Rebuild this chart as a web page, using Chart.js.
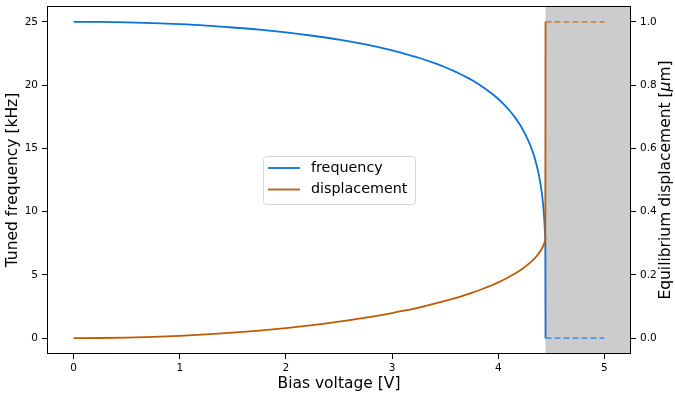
<!DOCTYPE html>
<html>
<head>
<meta charset="utf-8">
<script src="https://cdn.jsdelivr.net/npm/chart.js@4/dist/chart.umd.min.js"></script>
<style>
  html, body { margin: 0; padding: 0; background: #ffffff; }
  #c { display: block; }
</style>
</head>
<body>
<canvas id="c" width="675" height="395"></canvas>
<script>
// ---- Data ----
const biasVoltage = [0, 0.25, 0.5, 0.75, 1.0, 1.25, 1.5, 1.75, 2.0, 2.25, 2.5, 2.75, 3.0, 3.1, 3.25, 3.4, 3.5, 3.6, 3.65, 3.7, 3.75, 3.8, 3.85, 3.9, 3.95, 4.0, 4.05, 4.1, 4.15, 4.2, 4.25, 4.3, 4.33, 4.35, 4.38, 4.4, 4.41, 4.42, 4.43, 4.435, 4.44, 4.443, 4.445];
const frequency   = [25.0, 24.99, 24.95, 24.89, 24.81, 24.70, 24.55, 24.38, 24.16, 23.90, 23.59, 23.21, 22.74, 22.52, 22.16, 21.73, 21.41, 21.04, 20.84, 20.63, 20.40, 20.14, 19.87, 19.58, 19.26, 18.90, 18.50, 18.05, 17.53, 16.92, 16.19, 15.27, 14.59, 14.03, 13.0, 12.04, 11.48, 10.76, 9.77, 9.13, 8.32, 7.8, 0];
const displacement = [0, 0.0005, 0.0019, 0.0042, 0.0076, 0.0120, 0.0174, 0.0241, 0.0319, 0.0412, 0.0520, 0.0647, 0.0795, 0.0861, 0.0969, 0.1089, 0.1178, 0.1273, 0.1324, 0.1377, 0.1432, 0.1492, 0.1555, 0.1621, 0.169, 0.1765, 0.1845, 0.1932, 0.2026, 0.2132, 0.225, 0.2387, 0.248, 0.2551, 0.2673, 0.2775, 0.2829, 0.2895, 0.2976, 0.3023, 0.3078, 0.311, 1.0];
const afterVoltage = [4.445, 5.0];
const afterFrequency = [0, 0];
const afterDisplacement = [1.0, 1.0];
const pullInVoltage = 4.445;
const xTicks = [0, 1, 2, 3, 4, 5];
const yTicksLeft = [0, 5, 10, 15, 20, 25];
const yTicksRight = [0, 0.2, 0.4, 0.6, 0.8, 1.0];
const legendLabels = ['frequency', 'displacement'];

const BLUE = '#0a72d8';
const ORANGE = '#bf5b04';
const BLUE_DASH = 'rgba(10,114,216,0.6)';
const ORANGE_DASH = 'rgba(191,91,4,0.6)';
const FONT = "'DejaVu Sans', sans-serif";
const TITLE_SIZE = 15.5;

function pts(xs, ys) { return xs.map((x, i) => ({ x: x, y: ys[i] })); }
function noPad(s) { s.paddingTop = 0; s.paddingBottom = 0; s.paddingLeft = 0; s.paddingRight = 0; }

const shadePlugin = {
  id: 'shade',
  beforeDatasetsDraw(chart) {
    const { ctx, chartArea } = chart;
    const x0 = chart.scales.x.getPixelForValue(pullInVoltage);
    ctx.save();
    ctx.fillStyle = '#cccccc';
    ctx.fillRect(x0, chartArea.top, chartArea.right - x0, chartArea.bottom - chartArea.top);
    ctx.restore();
  },
  afterDraw(chart) {
    const { ctx, chartArea } = chart;
    ctx.save();
    // frame
    ctx.strokeStyle = '#000';
    ctx.lineWidth = 1;
    ctx.strokeRect(Math.round(chartArea.left) + 0.5, Math.round(chartArea.top) + 0.5,
      Math.round(chartArea.right - chartArea.left) - 1, Math.round(chartArea.bottom - chartArea.top) - 1);

    // right axis title (bottom-to-top)
    ctx.translate(666, (chartArea.top + chartArea.bottom) / 2);
    ctx.rotate(-Math.PI / 2);
    ctx.fillStyle = '#000';
    ctx.textBaseline = 'middle';
    const p1 = 'Equilibrium displacement [';
    const p2 = 'μ';
    const p3 = 'm]';
    const f = TITLE_SIZE + 'px ' + FONT;
    const fi = 'italic ' + TITLE_SIZE + 'px ' + FONT;
    ctx.font = f;
    const w1 = ctx.measureText(p1).width;
    const w3 = ctx.measureText(p3).width;
    ctx.font = fi;
    const w2 = ctx.measureText(p2).width;
    let x = -(w1 + w2 + w3) / 2;
    ctx.textAlign = 'left';
    ctx.font = f;
    ctx.fillText(p1, x, 0); x += w1;
    ctx.font = fi;
    ctx.fillText(p2, x, 0); x += w2;
    ctx.font = f;
    ctx.fillText(p3, x, 0);
    ctx.restore();

    // legend
    ctx.save();
    const bx = 263.5, by = 156.5, bw = 152, bh = 48, r = 3;
    ctx.fillStyle = 'rgba(255,255,255,0.8)';
    ctx.strokeStyle = '#d6d6d6';
    ctx.lineWidth = 1;
    ctx.beginPath();
    ctx.moveTo(bx + r, by);
    ctx.lineTo(bx + bw - r, by);
    ctx.arcTo(bx + bw, by, bx + bw, by + r, r);
    ctx.lineTo(bx + bw, by + bh - r);
    ctx.arcTo(bx + bw, by + bh, bx + bw - r, by + bh, r);
    ctx.lineTo(bx + r, by + bh);
    ctx.arcTo(bx, by + bh, bx, by + bh - r, r);
    ctx.lineTo(bx, by + r);
    ctx.arcTo(bx, by, bx + r, by, r);
    ctx.closePath();
    ctx.fill();
    ctx.stroke();
    const cols = [BLUE, ORANGE];
    const ys = [168, 189.5];
    ctx.font = '14.3px ' + FONT;
    ctx.textBaseline = 'middle';
    ctx.textAlign = 'left';
    for (let i = 0; i < 2; i++) {
      ctx.strokeStyle = cols[i];
      ctx.lineWidth = 1.8;
      ctx.beginPath();
      ctx.moveTo(268, ys[i]);
      ctx.lineTo(300, ys[i]);
      ctx.stroke();
      ctx.fillStyle = '#000';
      ctx.fillText(legendLabels[i], 311, ys[i]);
    }
    ctx.restore();
  }
};

const tickCommon = { color: '#000', font: { family: FONT, size: 10.5 } };

new Chart(document.getElementById('c'), {
  type: 'scatter',
  data: {
    datasets: [
      { label: 'displacement', data: pts(biasVoltage, displacement), yAxisID: 'y2',
        showLine: true, borderColor: ORANGE, borderWidth: 1.8, pointRadius: 0, fill: false, cubicInterpolationMode: 'monotone' },
      { label: 'displacement after', data: pts(afterVoltage, afterDisplacement), yAxisID: 'y2',
        showLine: true, borderColor: ORANGE_DASH, borderDash: [6, 3], borderWidth: 1.8, pointRadius: 0, fill: false },
      { label: 'frequency', data: pts(biasVoltage, frequency), yAxisID: 'y',
        showLine: true, borderColor: BLUE, borderWidth: 1.8, pointRadius: 0, fill: false, cubicInterpolationMode: 'monotone' },
      { label: 'frequency after', data: pts(afterVoltage, afterFrequency), yAxisID: 'y',
        showLine: true, borderColor: BLUE_DASH, borderDash: [6, 3], borderWidth: 1.8, pointRadius: 0, fill: false }
    ]
  },
  options: {
    responsive: false,
    devicePixelRatio: 1,
    animation: false,
    layout: { padding: { top: 6, left: 0, right: 0, bottom: 0 } },
    plugins: { legend: { display: false }, tooltip: { enabled: false } },
    scales: {
      x: {
        type: 'linear', position: 'bottom', min: -0.25, max: 5.25,
        afterBuildTicks: s => { s.ticks = xTicks.map(v => ({ value: v })); },
        afterFit: s => { s.height = 41; noPad(s); },
        ticks: { ...tickCommon, padding: 3, maxRotation: 0, callback: v => String(v) },
        grid: { drawOnChartArea: false, drawTicks: true, tickLength: 5, tickColor: '#000' },
        border: { display: false },
        title: { display: true, text: 'Bias voltage [V]', color: '#000', font: { family: FONT, size: TITLE_SIZE }, padding: { top: 0, bottom: 2 } }
      },
      y: {
        type: 'linear', position: 'left', min: -1.25, max: 26.25,
        afterBuildTicks: s => { s.ticks = yTicksLeft.map(v => ({ value: v })); },
        afterFit: s => { s.width = 47; noPad(s); },
        ticks: { ...tickCommon, padding: 4, callback: v => String(v) },
        grid: { drawOnChartArea: false, drawTicks: true, tickLength: 5, tickColor: '#000' },
        border: { display: false },
        title: { display: true, text: 'Tuned frequency [kHz]', color: '#000', font: { family: FONT, size: TITLE_SIZE }, padding: { top: 4, bottom: 0 } }
      },
      y2: {
        type: 'linear', position: 'right', min: -0.05, max: 1.05,
        afterBuildTicks: s => { s.ticks = yTicksRight.map(v => ({ value: v })); },
        afterFit: s => { s.width = 44; noPad(s); },
        ticks: { ...tickCommon, padding: 4, callback: v => v.toFixed(1) },
        grid: { drawOnChartArea: false, drawTicks: true, tickLength: 5, tickColor: '#000' },
        border: { display: false },
        title: { display: false }
      }
    }
  },
  plugins: [shadePlugin]
});
</script>
</body>
</html>
